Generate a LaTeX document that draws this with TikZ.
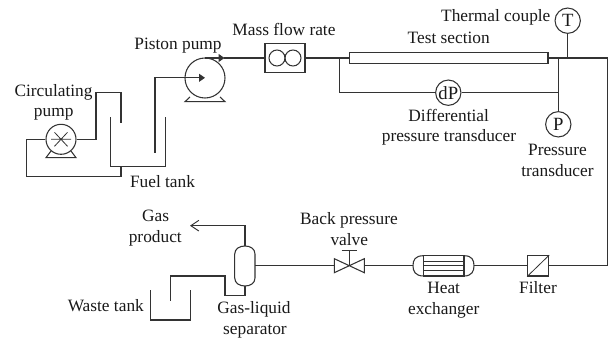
\documentclass[tikz,border=0pt]{standalone}
\usepackage{fontspec}
\setmainfont{Liberation Serif}
\usetikzlibrary{arrows.meta,calc}
\tikzset{
  pipe/.style={draw=black!80,line width=0.8pt,line join=miter},
  lbl/.style={anchor=base,inner sep=0pt,font=\fontsize{13}{15}\selectfont,text=black!90},
  gauge/.style={circle,draw=black!80,line width=0.8pt,minimum size=19pt,inner sep=0pt,font=\fontsize{14}{15}\selectfont,text=black!90},
  pumpc/.style={circle,draw=black!80,line width=0.8pt,inner sep=0pt},
  box/.style={rectangle,draw=black!80,line width=0.8pt,inner sep=0pt},
  head/.style={-{Triangle[length=4.5pt,width=6pt]}},
  openhead/.style={-{Straight Barb[length=6pt,width=8pt,line width=0.7pt]}}
}
\begin{document}
\begin{tikzpicture}[x=0.75pt,y=-0.75pt]
\useasboundingbox (0,0) rectangle (612,339);
% equipment
\node[pumpc,minimum size=30pt] (piston) at (205,78) {};
\node[pumpc,minimum size=22.5pt] (circ) at (61,139.3) {};
\node[box,minimum width=30pt,minimum height=22pt] (flow) at (285,58) {};
\node[pumpc,minimum size=12pt] (fa) at (277,58) {};
\node[pumpc,minimum size=12pt] (fb) at (293,58) {};
\node[box,line width=1pt,minimum width=149pt,minimum height=8pt] (test) at (448.7,58) {};
\node[gauge] (T) at (567.7,20.7) {T};
\node[gauge] (dP) at (448.3,92.7) {dP};
\node[gauge] (P) at (558.3,124.3) {P};
\node[box,minimum width=15.75pt,minimum height=15.25pt] (filter) at (538.2,265.8) {};
\node[box,minimum width=30.25pt,minimum height=15.25pt] (hx) at (443.8,265.8) {};
\coordinate (valve) at (349.3,265.7);
\coordinate (sepT) at (245,246);
\coordinate (sepB) at (245,286);
\coordinate (sepR) at (255,265.7);
% separator
\draw[pipe] (234.7,254) .. controls (234.7,248.5) and (240,246) .. (sepT) .. controls (250,246) and (255,248.5) .. (255,254) -- (sepR) -- (255,278) .. controls (255,283.5) and (250,286) .. (sepB) .. controls (240,286) and (234.7,283.5) .. (234.7,278) -- cycle;
% pump details
\draw[pipe] (190,97) -- (185,101.7) -- (225,101.7) -- (220,97);
\draw[pipe] (51,151) -- (46,157.7) -- (76,157.7) -- (71,151);
\draw[pipe,line width=0.6pt] ($(circ)+(-10,0)$) -- ($(circ)+(10,0)$) ($(circ)+(-6.5,-7)$) -- ($(circ)+(6.5,7)$) ($(circ)+(-6.5,7)$) -- ($(circ)+(6.5,-7)$);
% heat exchanger
\draw[pipe] (423.7,255.7) .. controls (415,255.7) and (413,260) .. (413,265.8) .. controls (413,271) and (415,276) .. (423.7,276);
\draw[pipe] (464,255.7) .. controls (472,255.7) and (474,260) .. (474,265.8) .. controls (474,271) and (472,276) .. (464,276);
\draw[pipe,line width=0.6pt] (hx.west |- 0,261) -- (hx.east |- 0,261) (hx.west |- 0,265.7) -- (hx.east |- 0,265.7) (hx.west |- 0,270.7) -- (hx.east |- 0,270.7);
% filter diagonal
\draw[pipe,line width=0.6pt] (filter.south west) -- (filter.north east);
% valve
\draw[pipe] (valve) -- (334.3,258.7) -- (334.3,272.7) -- (valve) -- (364.3,258.7) -- (364.3,272.7) -- cycle;
\draw[pipe] (valve) -- (349.3,250.7) (341.7,250.7) -- (356.7,250.7);
% tanks
\draw[pipe] (110.7,117) -- (110.7,166.7) -- (165.7,166.7) -- (165.7,117);
\draw[pipe] (150.7,290) -- (150.7,320) -- (190.3,320) -- (190.3,290);
% connectors
\coordinate (pin) at (155,152.7);
\draw[pipe] (pin) -- (155,77.8) -- (185,77.8);
\draw[pipe,head] (185,77.8) -- (205,77.8);
\coordinate (ptop) at (205,58);
\draw[pipe,head] (ptop) -- (224.5,58);
\draw[pipe] (224,58) -- (flow.west);
\draw[pipe] (flow.east) -- (test.west);
\coordinate (tr) at (607.3,58);
\draw[pipe] (test.east) -- (tr) |- (filter.east);
\draw[pipe] (filter.west) -- (474,265.8);
\draw[pipe] (413,265.8) -- (364.3,265.8);
\draw[pipe] (334.3,265.7) -- (sepR);
\coordinate (j1) at (339.3,58);
\coordinate (j2) at (558.3,58);
\coordinate (j3) at (558.3,92.7);
\draw[pipe] (j1) |- (dP.west);
\draw[pipe] (dP.east) -- (j3);
\draw[pipe] (j2) -- (P.north);
\draw[pipe] (T.south) -- (T.south |- tr);
% circulating loop
\coordinate (cin) at (121,122.7);
\draw[pipe] (cin) -- (121,92.3) -- (96,92.3) -- (96,139.3) -- (circ.east);
\draw[pipe] (circ.west) -- (26.7,139.3) -- (26.7,176.7) -- (121,176.7) -- (121,166.7);
% separator connections
\draw[pipe,openhead] (sepT) -- (245,225.7) -- (190,225.7);
\draw[pipe] (sepB) -- (245,295.3) -- (225,295.3) -- (225,276) -- (170.7,276) -- (170.7,300.7);
% labels
\node[lbl] (l1) at (495.8,21.5) {Thermal couple};
\node[lbl] (l2) at (448.7,44) {Test section};
\node[lbl] (l3) at (284,35.5) {Mass flow rate};
\node[lbl] (l4) at (178,50) {Piston pump};
\node[lbl] (l5) at (53.5,96) {Circulating};
\node[lbl] (l6) at (53.7,117) {pump};
\node[lbl] (l7) at (162.5,187.5) {Fuel tank};
\node[lbl] (l8) at (448.7,121) {Differential};
\node[lbl] (l9) at (449,142) {pressure transducer};
\node[lbl] (l10) at (557.5,155) {Pressure};
\node[lbl] (l11) at (557.5,176) {transducer};
\node[lbl] (l12) at (155.7,221) {Gas};
\node[lbl] (l13) at (155.3,242) {product};
\node[lbl] (l14) at (105.8,311.5) {Waste tank};
\node[lbl] (l15) at (254,313) {Gas-liquid};
\node[lbl] (l16) at (255,334) {separator};
\node[lbl] (l17) at (349,224) {Back pressure};
\node[lbl] (l18) at (349.3,245) {valve};
\node[lbl] (l19) at (443.7,293.5) {Heat};
\node[lbl] (l20) at (443.7,314.5) {exchanger};
\node[lbl] (l21) at (538,293.5) {Filter};
\end{tikzpicture}
\end{document}
